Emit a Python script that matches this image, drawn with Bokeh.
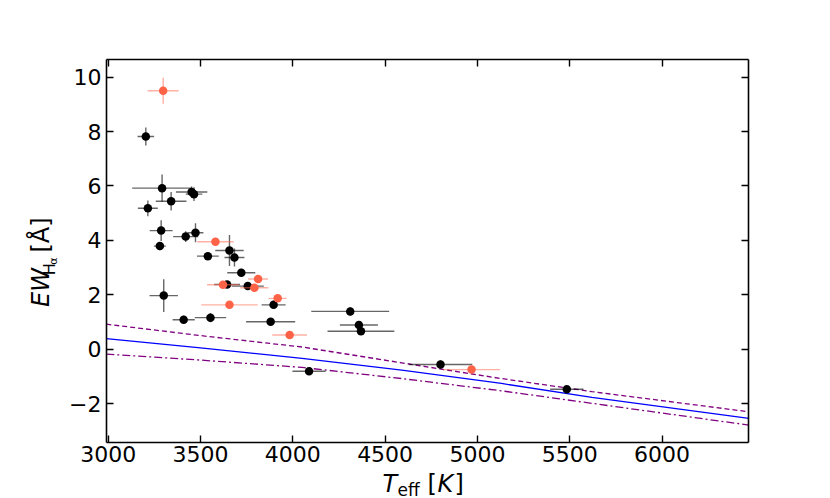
import numpy as np
from bokeh.plotting import figure
from bokeh.layouts import row, column
from bokeh.models import Range1d, LinearAxis, FixedTicker, CustomJSTickFormatter
from bokeh.core.properties import value
from bokeh.embed import file_html
from bokeh.resources import INLINE

# ---- data: black sample ----
blk_teff = [3204, 3292, 3452, 3465, 3341, 3215, 3287, 3280, 3420, 3473, 3657, 3684, 3540,
            3721, 3644, 3756, 3301, 3896, 4311, 3409, 3554, 3880, 4358, 4369, 4088, 4800, 5484]
blk_ew = [7.82, 5.92, 5.78, 5.70, 5.44, 5.18, 4.36, 3.79, 4.14, 4.28, 3.63, 3.37, 3.42,
          2.81, 2.38, 2.32, 1.97, 1.63, 1.39, 1.08, 1.16, 1.01, 0.89, 0.66, -0.81, -0.56, -1.47]
blk_teff_err = [45, 162, 85, 45, 83, 54, 62, 32, 68, 43, 77, 54, 59,
                76, 70, 87, 77, 65, 211, 60, 85, 133, 103, 181, 90, 172, 90]
blk_ew_err = [0.33, 0.50, 0.20, 0.25, 0.34, 0.29, 0.38, 0.15, 0.20, 0.35, 0.57, 0.33, 0.12,
              0.15, 0.12, 0.12, 0.60, 0.15, 0.15, 0.15, 0.17, 0.10, 0.10, 0.10, 0.10, 0.15, 0.10]

# ---- data: red sample ----
red_teff = [3298, 3581, 3812, 3622, 3792, 3918, 3657, 3983, 4968]
red_ew = [9.50, 3.95, 2.58, 2.37, 2.26, 1.87, 1.63, 0.52, -0.75]
red_teff_err = [84, 99, 54, 86, 76, 49, 153, 94, 155]
red_ew_err = [0.48, 0.15, 0.12, 0.12, 0.12, 0.12, 0.12, 0.10, 0.10]

# ---- model curves ----
model_teff = [2990, 3500, 4050, 4590, 5130, 5620, 6470]
model_ew = [0.39, 0.05, -0.34, -0.77, -1.26, -1.77, -2.54]
model_upper = [0.92, 0.50, 0.08, -0.50, -1.08, -1.56, -2.30]
model_lower = [-0.18, -0.40, -0.67, -1.08, -1.53, -1.99, -2.79]

x_ticks = [3000, 3500, 4000, 4500, 5000, 5500, 6000]
y_ticks = [-2, 0, 2, 4, 6, 8, 10]

X0, X1 = 2991, 6468
Y0, Y1 = -3.43, 10.65
FONT = "DejaVu Sans"

YLAB_W = 66          # width of the strip holding the y title
LEFT, TOP, FW, FH, BOTTOM, RIGHT = 39, 59, 642, 383, 30, 60
MAIN_H = TOP + FH + BOTTOM
TOTAL_W = YLAB_W + LEFT + FW + RIGHT
XLAB_H = 26
SHIFT = 0.33         # baseline correction, in em

p = figure(frame_width=FW, frame_height=FH,
           x_range=Range1d(X0, X1), y_range=Range1d(Y0, Y1),
           output_backend="svg", toolbar_location=None,
           min_border_left=LEFT, min_border_top=TOP,
           min_border_bottom=BOTTOM, min_border_right=RIGHT)
p.grid.visible = False
p.outline_line_color = None
p.background_fill_color = "white"
p.border_fill_color = "white"

def style_axis(ax, ticks, labels=True):
    ax.ticker = FixedTicker(ticks=ticks)
    ax.axis_line_color = "black"
    ax.axis_line_width = 1.6
    ax.major_tick_line_color = "black"
    ax.major_tick_line_width = 1.4
    ax.major_tick_in = 7
    ax.major_tick_out = 0
    ax.minor_tick_line_color = None
    ax.major_label_text_font = FONT
    ax.major_label_text_font_size = "22px"
    ax.major_label_text_color = "black"
    if not labels:
        ax.formatter = CustomJSTickFormatter(code="return ''")

style_axis(p.xaxis[0], x_ticks)
p.xaxis[0].major_label_standoff = 3
style_axis(p.yaxis[0], y_ticks)
p.yaxis[0].major_label_standoff = 5
p.yaxis[0].major_label_overrides = {-2: "\u22122"}

top = LinearAxis()
style_axis(top, x_ticks, labels=False)
p.add_layout(top, "above")
right = LinearAxis()
style_axis(right, y_ticks, labels=False)
p.add_layout(right, "right")

# model curves
p.line(model_teff, model_upper, line_color="purple", line_width=1.3, line_dash="5 3")
p.line(model_teff, model_ew, line_color="blue", line_width=1.3)
p.line(model_teff, model_lower, line_color="purple", line_width=1.3, line_dash="8 3 2 3")

def points(t, e, te, ee, color, bar_alpha):
    t = np.array(t, float); e = np.array(e, float)
    te = np.array(te, float); ee = np.array(ee, float)
    p.segment(t - te, e, t + te, e, line_color=color, line_alpha=bar_alpha, line_width=1.4)
    p.segment(t, e - ee, t, e + ee, line_color=color, line_alpha=bar_alpha, line_width=1.4)

points(blk_teff, blk_ew, blk_teff_err, blk_ew_err, "black", 0.6)
p.scatter(blk_teff, blk_ew, size=8.5, fill_color="black", line_color="black", line_width=0)
points(red_teff, red_ew, red_teff_err, red_ew_err, "tomato", 0.5)
p.scatter(red_teff, red_ew, size=8.5, fill_color="tomato", line_color="tomato", line_width=0)

def strip(w, h):
    f = figure(width=w, height=h, x_range=Range1d(0, w), y_range=Range1d(h, 0),
               x_axis_type=None, y_axis_type=None, output_backend="svg",
               toolbar_location=None, min_border=0)
    f.outline_line_color = None
    f.background_fill_color = "white"
    f.border_fill_color = "white"
    return f

def put(f, text, x, y, size, italic=False, rotated=False):
    # x, y: wanted baseline start in strip pixels
    if rotated:
        x = x - SHIFT * size
        ang = np.pi / 2
    else:
        y = y - SHIFT * size
        ang = 0.0
    f.text(x=[x], y=[y], text=[text], angle=ang, text_font=value(FONT),
           text_font_size=f"{size}px",
           text_font_style="italic" if italic else "normal",
           text_color="black", text_align="left", text_baseline="alphabetic")

# y-axis title: EW_{H_alpha} [Å]  (strip coordinates = page pixels)
ylab = strip(YLAB_W, MAIN_H)
put(ylab, "EW", 48, 305, 24, italic=True, rotated=True)
put(ylab, "H", 54, 266, 16, rotated=True)
put(ylab, "\u03b1", 57, 253, 11, rotated=True)
put(ylab, "[\u00c5]", 48, 238, 24, rotated=True)

# x-axis title: T_eff [K]  (strip starts at page y = MAIN_H)
xlab = strip(TOTAL_W, XLAB_H)
put(xlab, "T", 382, 491 - MAIN_H, 24, italic=True)
put(xlab, "eff", 397, 495 - MAIN_H, 17)
put(xlab, "[", 427, 491 - MAIN_H, 24)
put(xlab, "K", 437, 491 - MAIN_H, 24, italic=True)
put(xlab, "]", 454, 491 - MAIN_H, 24)

layout = column(row(ylab, p, spacing=0), xlab, spacing=0)
open("out.html", "w").write(file_html(layout, INLINE))
